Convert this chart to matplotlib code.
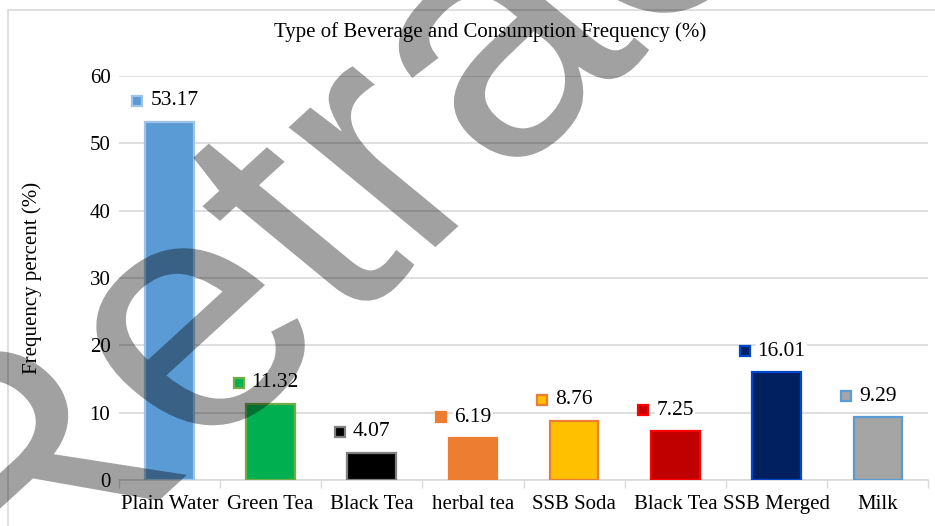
import numpy as np
import matplotlib
matplotlib.use("Agg")
import matplotlib.pyplot as plt
import matplotlib.transforms as mtransforms
import matplotlib.patches as mpatches
from matplotlib.textpath import TextPath
from matplotlib.font_manager import FontProperties

categories = ["Plain Water", "Green Tea", "Black Tea", "herbal tea",
              "SSB Soda", "Black Tea", "SSB Merged", "Milk"]
values = [53.17, 11.32, 4.07, 6.19, 8.76, 7.25, 16.01, 9.29]
fill_colors = ["#5b9bd5", "#00b050", "#000000", "#ed7d31",
               "#ffc000", "#c00000", "#002060", "#a5a5a5"]
edge_colors = ["#9dc3e6", "#70ad47", "#7f7f7f", "#ed7d31",
               "#ed7d31", "#ff0000", "#0047d0", "#5b9bd5"]
yticks = [0, 10, 20, 30, 40, 50, 60]

plt.rcParams['font.family'] = ['Liberation Serif', 'DejaVu Serif']

fig = plt.figure(figsize=(9.35, 5.26), dpi=100)
ax = fig.add_axes([0.127, 0.0875, 0.866, 0.768])

x = np.arange(len(categories))
ax.bar(x, values, width=0.48, color=fill_colors, edgecolor=edge_colors,
       linewidth=1.6, zorder=3)

ax.set_xlim(-0.5, len(categories) - 0.5)
ax.set_ylim(0, 60)
ax.set_yticks(yticks)
ax.set_xticks(x)
ax.set_xticklabels(categories, fontsize=15)
ax.set_xticks(np.arange(len(categories) + 1) - 0.5, minor=True)
ax.tick_params(axis='x', which='major', length=0, pad=11)
ax.tick_params(axis='x', which='minor', length=6, color='#d9d9d9', width=1)
ax.tick_params(axis='y', length=0, labelsize=15, pad=6)
ax.grid(axis='y', color='#d9d9d9', linewidth=1.2, zorder=0)
for s in ['top', 'right', 'left']:
    ax.spines[s].set_visible(False)
ax.spines['bottom'].set_color('#d9d9d9')
ax.spines['bottom'].set_linewidth(1.2)

ax.set_ylabel("Frequency percent (%)", fontsize=15, labelpad=34)
fig.text(0.524, 0.94, "Type of Beverage and Consumption Frequency (%)",
         ha='center', va='center', fontsize=15)

# data labels with legend key squares
for xi, v, fc, ec in zip(x, values, fill_colors, edge_colors):
    t_mark = mtransforms.offset_copy(ax.transData, fig=fig, x=-32, y=21, units='dots')
    ax.plot([xi], [v], marker='s', markersize=7, markerfacecolor=fc,
            markeredgecolor=ec, markeredgewidth=1.6, transform=t_mark,
            zorder=5, clip_on=False)
    t_txt = mtransforms.offset_copy(ax.transData, fig=fig, x=-19, y=21, units='dots')
    ax.text(xi, v, f"{v:.2f}", transform=t_txt, ha='left', va='center',
            fontsize=15.5, zorder=5,
            bbox=dict(facecolor='white', edgecolor='none', pad=1))

# chart frame
fig.patches.append(mpatches.Rectangle((0.009, -0.1), 1.2, 1.081, transform=fig.transFigure,
                                      fill=False, edgecolor='#d9d9d9', linewidth=1.2))

# watermark (slightly back-slanted, rotated), in pixel coords
wm_path = TextPath((0, 0), "Retracted", size=355,
                   prop=FontProperties(family='Liberation Sans'))
wm_tr = mtransforms.Affine2D().skew_deg(-8, 0).rotate_deg(42.5).translate(10, -111)
fig.add_artist(mpatches.PathPatch(wm_path, transform=wm_tr, facecolor='black',
                                  edgecolor='none', alpha=0.37, zorder=10))

fig.savefig("out.png", dpi=100)
